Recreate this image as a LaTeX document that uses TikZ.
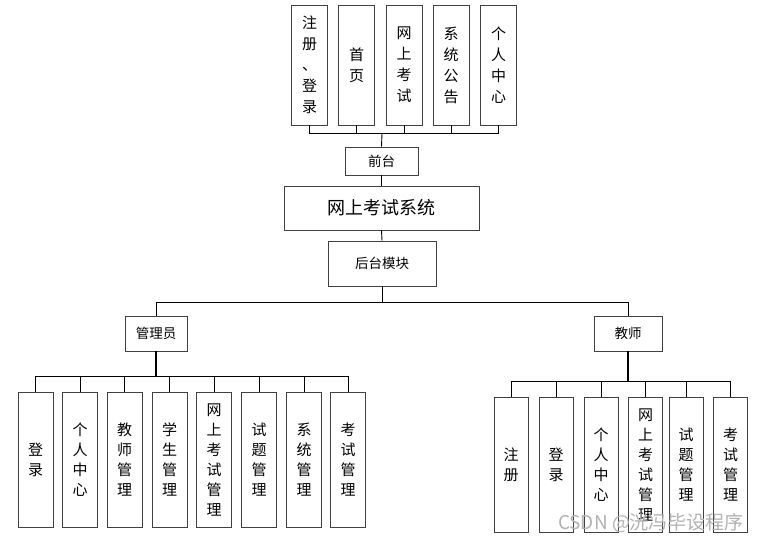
\documentclass[tikz,border=0pt]{standalone}
\usepackage{fontspec}
\setmainfont{Noto Sans CJK SC}
\newfontfamily\wmfont{Noto Sans CJK SC}
\begin{document}
\begin{tikzpicture}[x=1pt,y=-1pt,
  box/.style={draw=black!75,line width=0.9pt,fill=white,inner sep=0pt,align=center},
  vbox/.style={box,minimum width=35pt,minimum height=135pt,font=\fontsize{15}{20}\selectfont},
  tbox/.style={box,minimum width=36pt,minimum height=120pt,font=\fontsize{15}{21}\selectfont},
  hbox/.style={box,font=\fontsize{13.5}{15}\selectfont},
  conn/.style={draw=black,line width=0.9pt}]
\useasboundingbox (0,0) rectangle (762,543);
% top row
\node[tbox] (t1) at (309.5,65) {注\\册\\、\\登\\录};
\node[tbox] (t2) at (356.5,65) {首\\页};
\node[tbox] (t3) at (404,65) {网\\上\\考\\试};
\node[tbox] (t4) at (451,65) {系\\统\\公\\告};
\node[tbox] (t5) at (498.5,65) {个\\人\\中\\心};
\coordinate (tbus) at (382,133);
\node[hbox,minimum width=73pt,minimum height=28pt] (qt) at (381.5,161) {前台};
\node[box,minimum width=195pt,minimum height=44pt,font=\fontsize{18}{20}\selectfont] (sys) at (381.5,208) {网上考试系统};
\node[hbox,minimum width=108pt,minimum height=45pt] (ht) at (382,263.5) {后台模块};
\coordinate (bbus) at (382,302);
\node[hbox,minimum width=62pt,minimum height=35pt] (adm) at (156,333.5) {管理员};
\node[hbox,minimum width=68pt,minimum height=35pt] (tea) at (628,333.5) {教师};
% admin children
\coordinate (abus) at (156,376);
\node[vbox] (a1) at (35.5,459.5) {登\\录};
\node[vbox] (a2) at (80,459.5) {个\\人\\中\\心};
\node[vbox] (a3) at (124.5,459.5) {教\\师\\管\\理};
\node[vbox] (a4) at (169.5,459.5) {学\\生\\管\\理};
\node[vbox] (a5) at (214,459.5) {网\\上\\考\\试\\管\\理};
\node[vbox] (a6) at (259,459.5) {试\\题\\管\\理};
\node[vbox] (a7) at (304,459.5) {系\\统\\管\\理};
\node[vbox] (a8) at (348,459.5) {考\\试\\管\\理};
% teacher children
\coordinate (ebus) at (628,381);
\node[vbox,minimum width=34pt] (e1) at (511,464.5) {注\\册};
\node[vbox,minimum width=34pt] (e2) at (556,464.5) {登\\录};
\node[vbox,minimum width=34pt] (e3) at (601,464.5) {个\\人\\中\\心};
\node[vbox,minimum width=34pt] (e4) at (645.5,464.5) {网\\上\\考\\试\\管\\理};
\node[vbox,minimum width=34pt] (e5) at (686,464.5) {试\\题\\管\\理};
\node[vbox,minimum width=34pt] (e6) at (730.5,464.5) {考\\试\\管\\理};
% connectors
\foreach \n in {t1,t2,t3,t4,t5} \draw[conn] (\n.south) |- (tbus);
\draw[conn] (tbus) -- (qt.north);
\draw[conn] (qt.south) -- (sys.north);
\draw[conn] (sys.south) -- (ht.north);
\draw[conn] (ht.south) -- (bbus);
\draw[conn] (adm.north) |- (bbus);
\draw[conn] (tea.north) |- (bbus);
\draw[conn,line width=1.8pt] (adm.south) -- (abus);
\foreach \n in {a1,a2,a3,a4,a5,a6,a7,a8} \draw[conn] (\n.north) |- (abus);
\draw[conn,line width=1.4pt] (tea.south) -- (ebus);
\foreach \n in {e1,e2,e3,e4,e5,e6} \draw[conn] (\n.north) |- (ebus);
% watermark
\node[text=black!30,font=\wmfont\fontsize{19}{21}\selectfont,anchor=center] (wm) at (651,523) {CSDN @洸冯毕设程序};
\end{tikzpicture}
\end{document}
